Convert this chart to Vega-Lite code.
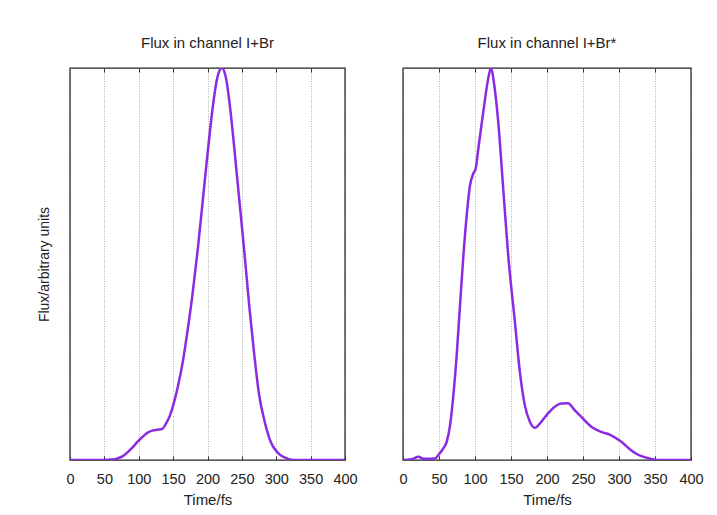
{
  "$schema": "https://vega.github.io/schema/vega-lite/v6.json",
  "background": "white",
  "padding": {"left": 36, "top": 34, "right": 0, "bottom": 0},
  "spacing": 40,
  "config": {
    "font": "Liberation Sans",
    "view": {"stroke": "#222", "strokeWidth": 1.4},
    "title": {"font": "Liberation Sans", "fontSize": 15, "fontWeight": "normal", "color": "#222", "offset": 17},
    "axis": {"labelFont": "Liberation Sans", "titleFont": "Liberation Sans", "labelColor": "#222", "titleColor": "#222", "titleFontWeight": "normal"}
  },
  "datasets": {
    "left": [
      {"t": 0, "f": 0}, {"t": 50, "f": 0}, {"t": 60, "f": 0.001}, {"t": 69, "f": 0.004}, {"t": 77, "f": 0.01},
      {"t": 84, "f": 0.02}, {"t": 91, "f": 0.032}, {"t": 98, "f": 0.046}, {"t": 106, "f": 0.06}, {"t": 113, "f": 0.07},
      {"t": 120, "f": 0.075}, {"t": 127, "f": 0.077}, {"t": 134, "f": 0.079}, {"t": 140, "f": 0.094}, {"t": 145, "f": 0.112},
      {"t": 149, "f": 0.133}, {"t": 153, "f": 0.158}, {"t": 157, "f": 0.188}, {"t": 164, "f": 0.25}, {"t": 171, "f": 0.33},
      {"t": 178, "f": 0.42}, {"t": 186, "f": 0.54}, {"t": 193, "f": 0.66}, {"t": 200, "f": 0.78}, {"t": 208, "f": 0.905},
      {"t": 214, "f": 0.973}, {"t": 221, "f": 1.0}, {"t": 227, "f": 0.973}, {"t": 233, "f": 0.897}, {"t": 239, "f": 0.795},
      {"t": 246, "f": 0.668}, {"t": 254, "f": 0.523}, {"t": 261, "f": 0.388}, {"t": 268, "f": 0.269}, {"t": 275, "f": 0.167},
      {"t": 283, "f": 0.099}, {"t": 292, "f": 0.046}, {"t": 302, "f": 0.019}, {"t": 317, "f": 0.003}, {"t": 326, "f": 0},
      {"t": 400, "f": 0}
    ],
    "right": [
      {"t": 0, "f": 0}, {"t": 12, "f": 0.002}, {"t": 21.6, "f": 0.008}, {"t": 28.5, "f": 0.003}, {"t": 44.6, "f": 0.004},
      {"t": 49.3, "f": 0.013}, {"t": 56.2, "f": 0.03}, {"t": 60.8, "f": 0.047}, {"t": 65.4, "f": 0.089}, {"t": 70, "f": 0.166},
      {"t": 74.6, "f": 0.268}, {"t": 79.2, "f": 0.395}, {"t": 83.9, "f": 0.522}, {"t": 88.5, "f": 0.624}, {"t": 93.1, "f": 0.701},
      {"t": 97.7, "f": 0.731}, {"t": 100.9, "f": 0.743}, {"t": 104.6, "f": 0.794}, {"t": 111.5, "f": 0.888}, {"t": 117.5, "f": 0.964},
      {"t": 122.1, "f": 1.0}, {"t": 126.8, "f": 0.956}, {"t": 132.3, "f": 0.862}, {"t": 139.2, "f": 0.692}, {"t": 146.1, "f": 0.522},
      {"t": 155.4, "f": 0.353}, {"t": 162.3, "f": 0.225}, {"t": 169.2, "f": 0.14}, {"t": 176.1, "f": 0.098}, {"t": 183, "f": 0.082},
      {"t": 192.3, "f": 0.098}, {"t": 201.5, "f": 0.119}, {"t": 210.7, "f": 0.136}, {"t": 219.9, "f": 0.144}, {"t": 229.2, "f": 0.145},
      {"t": 238.4, "f": 0.127}, {"t": 247.6, "f": 0.11}, {"t": 261.4, "f": 0.085}, {"t": 275.3, "f": 0.072}, {"t": 289.1, "f": 0.063},
      {"t": 302.9, "f": 0.047}, {"t": 316.8, "f": 0.025}, {"t": 326, "f": 0.014}, {"t": 344.4, "f": 0.003}, {"t": 353.7, "f": 0},
      {"t": 400, "f": 0}
    ]
  },
  "hconcat": [
    {
      "width": 275,
      "height": 392,
      "title": {"text": "Flux in channel I+Br"},
      "data": {"name": "left"},
      "layer": [
        {
          "mark": {"type": "line", "interpolate": "monotone", "color": "#8a2be2", "strokeWidth": 2.5, "clip": true},
          "encoding": {
            "x": {"field": "t", "type": "quantitative", "scale": {"domain": [0, 400], "nice": false},
              "axis": {"orient": "bottom", "values": [0, 50, 100, 150, 200, 250, 300, 350, 400], "title": "Time/fs", "titleFontSize": 15, "titlePadding": 7,
                "labelFontSize": 14.5, "labelPadding": 16, "domain": false, "tickSize": -4, "tickColor": "#333",
                "grid": true, "gridColor": "#999", "gridDash": [1, 1.5], "gridWidth": 0.8, "labelFlush": false}},
            "y": {"field": "f", "type": "quantitative", "scale": {"domain": [0, 1], "nice": false},
              "axis": {"title": "Flux/arbitrary units", "titleFontSize": 14, "labels": false, "ticks": false, "domain": false, "grid": false, "titlePadding": 19}}
          }
        },
        {
          "mark": {"type": "rule", "opacity": 0},
          "encoding": {
            "x": {"field": "t", "type": "quantitative", "scale": {"domain": [0, 400], "nice": false},
              "axis": {"orient": "top", "values": [50, 100, 150, 200, 250, 300, 350], "labels": false, "title": null, "domain": false, "grid": false, "tickSize": -4, "tickColor": "#333"}}
          }
        }
      ],
      "resolve": {"axis": {"x": "independent"}}
    },
    {
      "width": 288,
      "height": 392,
      "title": {"text": "Flux in channel I+Br*"},
      "data": {"name": "right"},
      "layer": [
        {
          "mark": {"type": "line", "interpolate": "monotone", "color": "#8a2be2", "strokeWidth": 2.5, "clip": true},
          "encoding": {
            "x": {"field": "t", "type": "quantitative", "scale": {"domain": [0, 400], "nice": false},
              "axis": {"orient": "bottom", "values": [0, 50, 100, 150, 200, 250, 300, 350, 400], "title": "Time/fs", "titleFontSize": 15, "titlePadding": 7,
                "labelFontSize": 14.5, "labelPadding": 16, "domain": false, "tickSize": -4, "tickColor": "#333",
                "grid": true, "gridColor": "#999", "gridDash": [1, 1.5], "gridWidth": 0.8, "labelFlush": false}},
            "y": {"field": "f", "type": "quantitative", "scale": {"domain": [0, 1], "nice": false}, "axis": null}
          }
        },
        {
          "mark": {"type": "rule", "opacity": 0},
          "encoding": {
            "x": {"field": "t", "type": "quantitative", "scale": {"domain": [0, 400], "nice": false},
              "axis": {"orient": "top", "values": [50, 100, 150, 200, 250, 300, 350], "labels": false, "title": null, "domain": false, "grid": false, "tickSize": -4, "tickColor": "#333"}}
          }
        }
      ],
      "resolve": {"axis": {"x": "independent"}}
    }
  ]
}
